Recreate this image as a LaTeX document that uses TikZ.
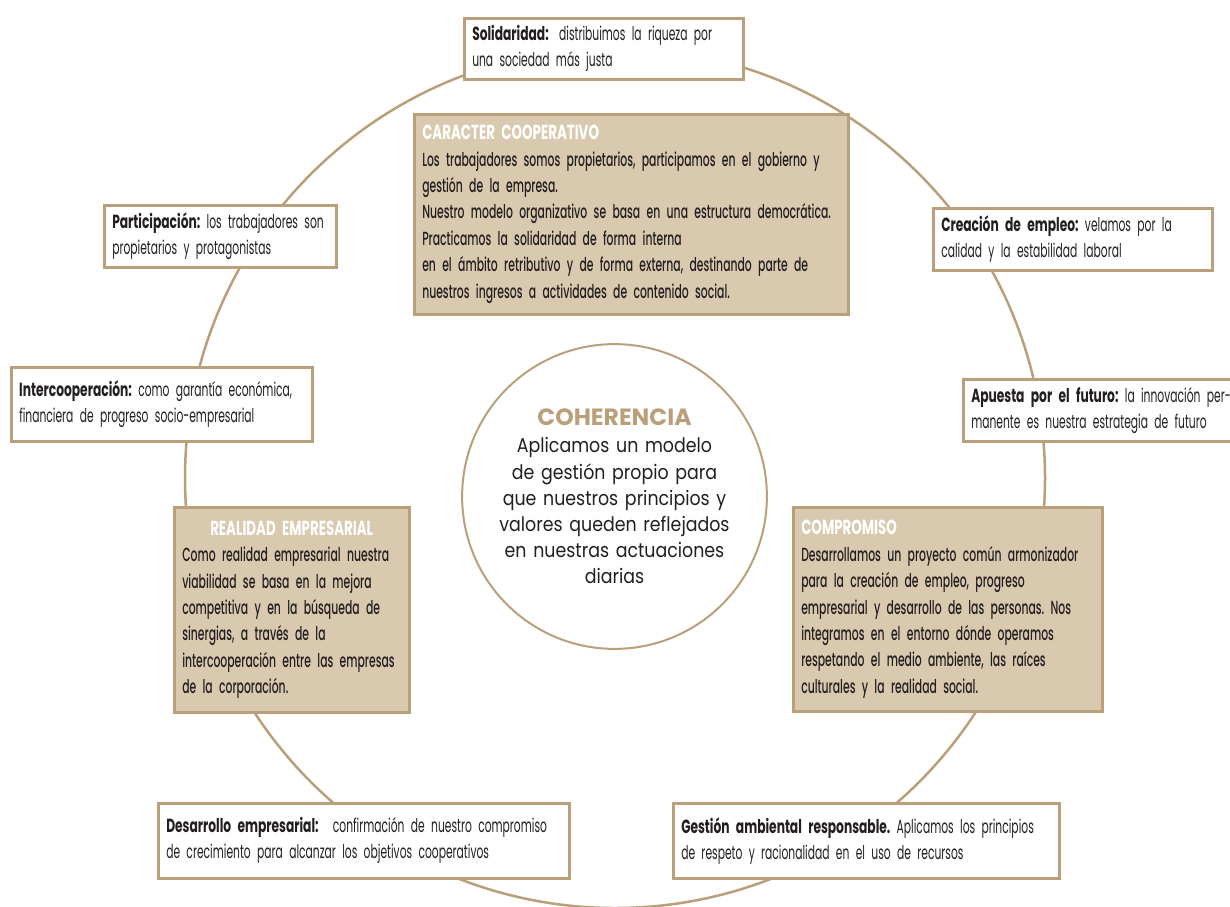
\documentclass[tikz,border=0pt]{standalone}
\usepackage{fontspec}
\setmainfont{Poppins}
\newfontfamily\cond[FakeStretch=0.565,BoldFeatures={FakeStretch=0.645}]{Poppins}
\newfontfamily\condmed[FakeStretch=0.57,BoldFont={Poppins Bold},BoldFeatures={FakeStretch=0.66}]{Poppins Medium}
\newfontfamily\circfont[FakeStretch=0.87]{Poppins}
\newfontfamily\cohfont[FakeStretch=1.0]{Poppins Bold}
\definecolor{tan}{HTML}{B9A07A}
\definecolor{boxfill}{HTML}{D9C9AF}
\definecolor{ink}{HTML}{231F20}
\frenchspacing
\newcommand\smallfont{\frenchspacing\cond\fontsize{19}{26}\selectfont\spaceskip=2.6pt\relax\hyphenpenalty=10000\relax}
\newcommand\darkfont{\frenchspacing\condmed\fontsize{19}{26.4}\selectfont\spaceskip=2.6pt\relax\hyphenpenalty=10000\relax}
\newcommand\lbl[1]{\textbf{#1}}
\newcommand\ttl[1]{{\color{white}\bfseries\fontsize{20.3}{26.4}\selectfont #1}}
\newcommand\tline[1]{\mbox{#1}}
\tikzset{
  wbox/.style={draw=tan, line width=2.5pt, fill=white, anchor=north west,
    inner xsep=8pt, inner ysep=0pt, align=left, text=ink, font=\smallfont},
  dbox/.style={wbox, fill=boxfill, font=\darkfont},
}
\begin{document}
\begin{tikzpicture}[x=1pt,y=-1pt]
\useasboundingbox (0,0) rectangle (1230,906);
\clip (0,0) rectangle (1230,906);
\node[circle, draw=tan, line width=2.5pt, minimum size=860pt, inner sep=0pt] (ring) at (615,478) {};

\node[wbox, minimum width=279pt, minimum height=61pt, text width=263pt] (sol) at (463,17)
 {\tline{\lbl{Solidaridad:}\hspace{4pt} distribuimos la riqueza por}\\\tline{una sociedad más justa}};
\node[dbox, minimum width=434pt, minimum height=200pt, text width=418pt] (car) at (413,113)
 {\tline{\ttl{CARACTER COOPERATIVO}}\\
  \tline{Los trabajadores somos propietarios, participamos en el gobierno y}\\
  \tline{gestión de la empresa.}\\
  \tline{Nuestro modelo organizativo se basa en una estructura democrática.}\\
  \tline{Practicamos la solidaridad de forma interna}\\
  \tline{en el ámbito retributivo y de forma externa, destinando parte de}\\
  \tline{nuestros ingresos a actividades de contenido social.}};
\node[wbox, minimum width=232pt, minimum height=62pt, text width=216pt] (par) at (103,204)
 {\tline{\lbl{Participación:} los trabajadores son}\\\tline{propietarios y protagonistas}};
\node[wbox, minimum width=301pt, minimum height=74pt, text width=285pt] (int) at (10,366)
 {\tline{\lbl{Intercooperación:} como garantía económica,}\\\tline{financiera de progreso socio-empresarial}};
\node[dbox, minimum width=235pt, minimum height=205pt, text width=219pt] (rea) at (173,506)
 {\hspace*{28pt}\tline{\ttl{REALIDAD EMPRESARIAL}}\\
  \tline{Como realidad empresarial nuestra}\\
  \tline{viabilidad se basa en la mejora}\\
  \tline{competitiva y en la búsqueda de}\\
  \tline{sinergias, a través de la}\\
  \tline{intercooperación entre las empresas}\\
  \tline{de la corporación.}};
\node[wbox, minimum width=279pt, minimum height=62pt, text width=263pt] (cre) at (932,207)
 {\tline{\lbl{Creación de empleo:} velamos por la}\\\tline{calidad y la estabilidad laboral}};
\node[wbox, minimum width=284pt, minimum height=62pt, text width=268pt] (apu) at (962,378)
 {\tline{\lbl{Apuesta por el futuro:} la innovación per-}\\\tline{manente es nuestra estrategia de futuro}};
\node[dbox, minimum width=309pt, minimum height=204pt, text width=293pt] (com) at (792,506)
 {\tline{\ttl{COMPROMISO}}\\
  \tline{Desarrollamos un proyecto común armonizador}\\
  \tline{para la creación de empleo, progreso}\\
  \tline{empresarial y desarrollo de las personas. Nos}\\
  \tline{integramos en el entorno dónde operamos}\\
  \tline{respetando el medio ambiente, las raíces}\\
  \tline{culturales y la realidad social.}};
\node[wbox, minimum width=411pt, minimum height=75pt, text width=395pt] (des) at (157,802)
 {\tline{\lbl{Desarrollo empresarial:}\hspace{8pt} confirmación de nuestro compromiso}\\\tline{de crecimiento para alcanzar los objetivos cooperativos}};
\node[wbox, minimum width=386pt, minimum height=75pt, text width=370pt] (ges) at (672,802)
 {\tline{\lbl{Gestión ambiental responsable.} Aplicamos los principios}\\\tline{de respeto y racionalidad en el uso de recursos}};

\node[circle, draw=tan, line width=2pt, fill=white, minimum size=263pt, inner sep=0pt,
  text width=250pt, align=center, text=ink,
  font={\circfont\fontsize{20}{26.2}\selectfont}] (coh) at (614.5,496.5)
 {{\color{tan}\cohfont\fontsize{23.5}{29}\selectfont COHERENCIA}\\[1pt]
  Aplicamos un modelo\\de gestión propio para\\que nuestros principios y\\valores queden reflejados\\en nuestras actuaciones\\diarias};
\end{tikzpicture}
\end{document}
